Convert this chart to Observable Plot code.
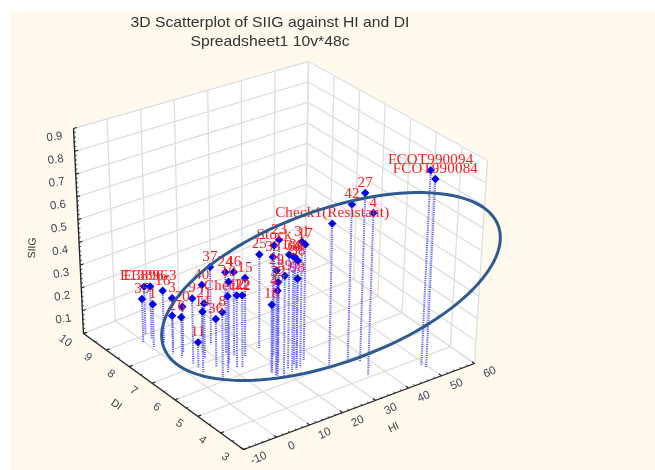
<!DOCTYPE html>
<html>
<head>
<meta charset="utf-8">
<script src="https://cdn.jsdelivr.net/npm/d3@7"></script>
<script src="https://cdn.jsdelivr.net/npm/@observablehq/plot@0.6"></script>
<style>
html{background:#fff;overflow:hidden;}
body{margin:0;padding:0;background:transparent;}
#bg{position:absolute;left:10px;top:11px;width:645px;height:459px;background:#fff9ee;z-index:-1;}
#t{height:50px;width:540px;box-sizing:border-box;padding-top:13px;text-align:center;font:14.5px/19px "Liberation Sans",Arial,sans-serif;color:#333;transform:scaleX(1.085);filter:blur(.3px);}
svg{display:block;filter:blur(.4px);background:transparent !important;}
.lab text{letter-spacing:.2px;}
</style>
</head>
<body>
<div id="bg"></div>
<div id="t">3D Scatterplot of SIIG against HI and DI<br>Spreadsheet1 10v*48c</div>
<div id="c"></div>
<script>
const labels = ["35","E13896","E3896-3","1","16","3","2","6","20","9","21","11","14","40","37","36","8","Check2","10","24","46","15","12","22","25","18","Stock","23","31","17","33","13","34","68","38","29","39","32","47","98","Check1(Resistant)","42","27","4","FCOT990094","FCOT990084"];
const HI = [-0.5,2.5,2.4,0.5,3.8,4.0,2.5,3.3,4.9,3.7,7.8,3.8,3.3,8.8,12.8,7.4,5.9,8.1,11.0,13.4,14.2,16.4,11.5,12.6,21.1,17.0,22.1,21.1,24.2,26.7,17.1,21.4,21.4,23.7,23.3,17.1,18.7,17.4,17.8,22.8,30.4,35.5,37.9,35.8,48.8,49.3];
const DI = [8.71,9.03,8.75,8.39,8.41,8.04,7.84,7.56,7.73,7.13,7.2,6.92,6.64,7.43,7.63,6.65,6.16,6.24,6.6,7.07,6.83,6.66,6.33,6.25,6.71,5.62,6.24,5.9,5.39,5.59,5.6,5.52,5.35,5.59,5.42,5.44,5.32,5.41,5.49,5.36,5.02,4.94,4.75,4.12,3.68,3.55];
const SIIG = [0.193,0.209,0.23,0.187,0.228,0.22,0.165,0.174,0.20,0.283,0.236,0.108,0.262,0.296,0.341,0.209,0.279,0.332,0.356,0.354,0.367,0.342,0.313,0.313,0.418,0.294,0.485,0.537,0.548,0.511,0.501,0.496,0.499,0.469,0.467,0.453,0.431,0.403,0.359,0.396,0.623,0.689,0.741,0.703,0.862,0.829];
const hiTicks = [-10,0,10,20,30,40,50,60];
const hiMinor = d3.range(-10,60.1,2);
const diTicks = [3,4,5,6,7,8,9,10];
const diMinor = d3.range(3,10.01,0.5);
const zTicks = [0.1,0.2,0.3,0.4,0.5,0.6,0.7,0.8,0.9];
const zMinor = d3.range(0,0.901,0.02);

// 3D view: where the eight corners of the box fall on the picture
const view = {top:50, floor:{F:[243,449],L:[83,333],R:[474,363],B:[305,245]}, roof:{F:[242.5,227],L:[73,128],R:[487,160],B:[308,61]}};
function P(hi,di,z){
  const s=(hi+10)/70,t=(di-3)/7,w=z/0.9;
  const q=(c)=>{const f=view.floor,r=view.roof;
    const bl=(o)=>(1-s)*(1-t)*o.F[c]+s*(1-t)*o.R[c]+(1-s)*t*o.L[c]+s*t*o.B[c];
    return (1-w)*bl(f)+w*bl(r);};
  return {x:q(0),y:q(1)-view.top};
}
const segs=[];
function seg(g,a,b){const p=P(...a),q=P(...b);segs.push({g,x1:p.x,y1:p.y,x2:q.x,y2:q.y});}
for(const h of hiTicks){seg("grid",[h,3,0],[h,10,0]);seg("grid",[h,10,0],[h,10,.9]);}
for(const d of diTicks){seg("grid",[-10,d,0],[60,d,0]);seg("grid",[60,d,0],[60,d,.9]);}
for(const z of [0,...zTicks]){seg("grid",[-10,10,z],[60,10,z]);seg("grid",[60,10,z],[60,3,z]);}
seg("axis",[-10,3,0],[60,3,0]);seg("axis",[-10,3,0],[-10,10,0]);seg("axis",[-10,10,0],[-10,10,.9]);
for(const h of hiMinor){const m=hiTicks.includes(h);seg(m?"maj":"min",[h,3,0],[h,m?3.11:3.07,0]);}
for(const d of diMinor){const m=diTicks.includes(d);seg(m?"maj":"min",[-10,d,0],[m?-9:-9.4,d,0]);}
for(const z of zMinor){const m=Math.abs(z*10-Math.round(z*10))<1e-6;seg(m?"maj":"min",[-10,10,z],[m?-9:-9.4,10,z]);}
const wallL=[[-10,10,0],[60,10,0],[60,10,.9],[-10,10,.9]].map(a=>P(...a));
const wallR=[[60,10,0],[60,3,0],[60,3,.9],[60,10,.9]].map(a=>P(...a));
const flr=[[-10,3,0],[60,3,0],[60,10,0],[-10,10,0]].map(a=>P(...a));
const pts=labels.map((label,i)=>{const m=P(HI[i],DI[i],SIIG[i]),f=P(HI[i],DI[i],0);return {label,x:m.x,y:m.y,fx:f.x,fy:f.y};});

// hand-drawn oval annotation: centre, half-axes and tilt
const oval={cx:330.5,cy:286-view.top,a:178,b:76.3,tilt:-19.93*Math.PI/180};
const ovalPts=d3.range(0,121).map(i=>{const u=i/120*2*Math.PI,c=Math.cos(oval.tilt),n=Math.sin(oval.tilt),
  ex=oval.a*Math.cos(u),ey=oval.b*Math.sin(u);return {x:oval.cx+ex*c-ey*n,y:oval.cy+ex*n+ey*c};});

const tick=(vals,fn,dx,dy,rotate)=>Plot.text(vals,{x:v=>fn(v).x,y:v=>fn(v).y,text:v=>String(v),dx,dy,rotate,fontSize:11.5,fill:"#445",fontFamily:"Liberation Sans"});
const g=n=>segs.filter(d=>d.g===n);
const links=(n,o)=>Plot.link(g(n),{x1:"x1",y1:"y1",x2:"x2",y2:"y2",...o});
const fillPoly=p=>Plot.line(p,{x:"x",y:"y",fill:"white",stroke:"white"});

const chart=Plot.plot({
  width:655,height:420,margin:0,
  x:{type:"identity",axis:null},y:{type:"identity",axis:null},
  style:{background:"transparent"},
  marks:[
    fillPoly(wallL),fillPoly(wallR),fillPoly(flr),
    links("grid",{stroke:"#dedede",strokeWidth:1.3}),
    links("axis",{stroke:"#222",strokeWidth:1.3}),
    links("maj",{stroke:"#222",strokeWidth:1.2}),
    links("min",{stroke:"#222",strokeWidth:.8}),
    tick(hiTicks,v=>P(v,3,0),15,8.3,-24),
    tick(diTicks,v=>P(-10,v,0),-18,7,35),
    tick(zTicks,v=>P(-10,10,v),-19,8,-8),
    Plot.text(["HI"],{x:()=>P(35,3,0).x,y:()=>P(35,3,0).y,dx:1.5,dy:33,rotate:-25,fontSize:10.5,fill:"#333",fontFamily:"Liberation Sans"}),
    Plot.text(["DI"],{x:()=>P(-10,6.5,0).x,y:()=>P(-10,6.5,0).y,dx:-47,dy:13,rotate:35,fontSize:10.5,fill:"#333",fontFamily:"Liberation Sans"}),
    Plot.text(["SIIG"],{x:()=>P(-10,10,.45).x,y:()=>P(-10,10,.45).y,dx:-46.5,dy:17,rotate:-88,fontSize:10.5,fill:"#333",fontFamily:"Liberation Sans"}),
    Plot.link(pts,{x1:"x",y1:"y",x2:"fx",y2:"fy",stroke:"#6060ff",strokeWidth:2,strokeDasharray:"1.2 1"}),
    Plot.dot(pts,{x:"x",y:"y",symbol:"diamond2",r:3.8,fill:"#0000f0",stroke:"none"}),
    Plot.text(pts,{x:"x",y:"y",text:"label",dy:-11,fontSize:15,fill:"#ff1a1a",fontFamily:"Liberation Serif",className:"lab"}),
    Plot.line(ovalPts,{x:"x",y:"y",stroke:"#2f5a8f",strokeWidth:3})
  ]
});
document.getElementById("c").appendChild(chart);
</script>
</body>
</html>
